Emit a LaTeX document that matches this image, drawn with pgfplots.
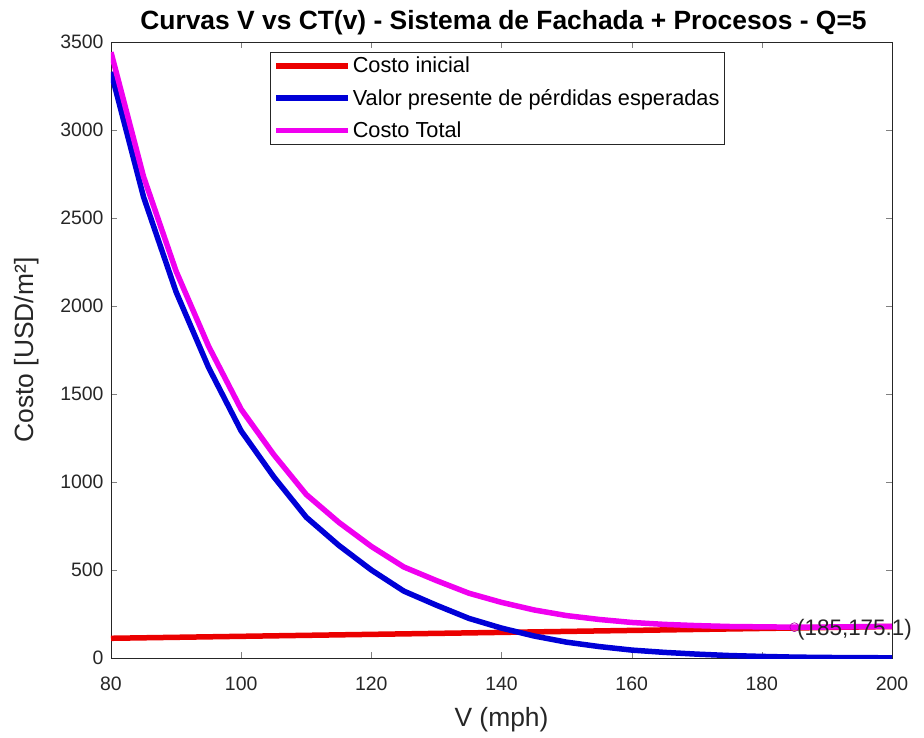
\documentclass[border=0pt]{standalone}
\usepackage{pgfplots}
\pgfplotsset{compat=1.18}
\usepackage{fontspec}
\setmainfont{Liberation Sans}
\definecolor{mred}{RGB}{235,0,0}
\definecolor{mblue}{RGB}{0,0,215}
\definecolor{mmag}{RGB}{240,0,240}
\definecolor{tickgray}{RGB}{38,38,38}
\begin{document}
\begin{tikzpicture}
\useasboundingbox (-111bp,-80bp) rectangle (813bp,658bp);
\begin{axis}[
  at={(0,0)}, anchor=south west,
  scale only axis, width=781bp, height=616bp,
  xmin=80, xmax=200, ymin=0, ymax=3500,
  clip mode=individual,
  xtick={80,100,...,200}, ytick={0,500,...,3500},
  tick align=inside, xtick pos=both, ytick pos=both,
  major tick length=6bp,
  /pgf/number format/assume math mode=true,
  /pgf/number format/1000 sep={},
  tick label style={font=\fontsize{19.5}{22}\selectfont, text=tickgray},
  xticklabel style={yshift=-15bp},
  yticklabel style={xshift=-4bp},
  title={\textbf{Curvas V vs CT(v) - Sistema de Fachada + Procesos - Q=5}},
  title style={font=\fontsize{26.5}{30}\selectfont, yshift=-2bp, xshift=2bp},
  xlabel={V (mph)}, ylabel={Costo [USD/m²]},
  label style={font=\fontsize{26.5}{30}\selectfont, text=tickgray},
  xlabel style={yshift=-10bp},
  ylabel style={yshift=14bp},
  axis line style={tickgray, line width=0.8pt},
  legend style={at={(0.2036,0.984)}, anchor=north west, font=\fontsize{21.8}{26}\selectfont,
    draw=tickgray, line width=0.6pt, inner sep=3bp, row sep=11bp},
  legend cell align=left,
  legend image code/.code={\draw[#1, line width=5.5bp] (0bp,0bp) -- (72bp,0bp);},
  every axis plot/.append style={line width=5.5bp, line join=round},
]
\addplot[mred] coordinates {(80,112) (200,179)};
\addlegendentry{Costo inicial}
\addplot[mblue] coordinates {
(80,3330) (85,2620) (90,2080) (95,1650) (100,1290) (105,1030) (110,800)
(115,640) (120,500) (125,380) (130,300) (135,225) (140,170) (145,125)
(150,90) (155,65) (160,45) (165,32) (170,22) (175,14) (180,9) (185,5)
(190,3) (195,2) (200,1)};
\addlegendentry{Valor presente de pérdidas esperadas}
\addplot[mmag] coordinates {
(80,3442) (85,2735) (90,2198) (95,1771) (100,1413) (105,1156) (110,929)
(115,771) (120,634) (125,517) (130,440) (135,368) (140,316) (145,273)
(150,241) (155,219) (160,202) (165,191) (170,184) (175,179) (180,177) (185,175.1)
(190,176) (195,178) (200,180)};
\addlegendentry{Costo Total}
\addplot[forget plot, mmag!70!black, line width=0.6pt, mark=o, mark size=4.5bp, mark options={fill=mmag!60}] coordinates {(185,175.1)};
\node[anchor=west, font=\fontsize{22.5}{26}\selectfont, text=tickgray, inner sep=0bp] at (axis cs:185.4,160) {(185,175.1)};
\end{axis}
\end{tikzpicture}
\end{document}
